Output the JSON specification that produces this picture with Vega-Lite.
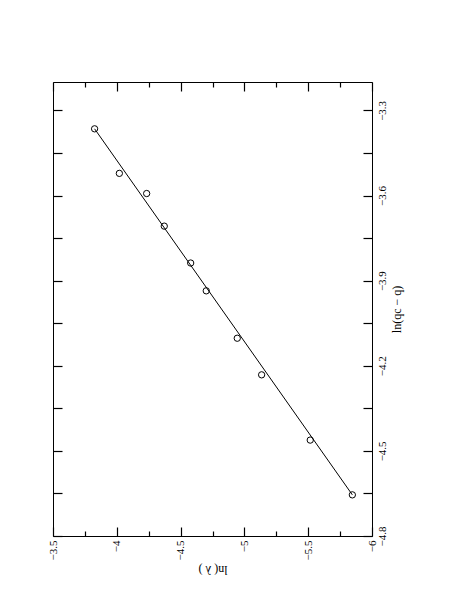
{
  "$schema": "https://vega.github.io/schema/vega-lite/v6.json",
  "width": 319,
  "height": 454,
  "autosize": {"type": "none"},
  "padding": {"left": 53, "top": 82, "right": 81, "bottom": 69},
  "background": "white",
  "config": {
    "view": {"stroke": "black", "strokeWidth": 1},
    "axis": {
      "grid": false,
      "domain": false,
      "labelFont": "Liberation Serif",
      "titleFont": "Liberation Serif",
      "labelFontSize": 11,
      "titleFontSize": 12,
      "titleFontWeight": "normal",
      "ticks": true,
      "tickColor": "black",
      "tickOpacity": 1,
      "labelColor": "black",
      "titleColor": "black",
      "tickWidth": 1.2
    }
  },
  "datasets": {
    "pts": [
      {"lnlam": -3.826, "lnq": -3.365},
      {"lnlam": -4.020, "lnq": -3.522},
      {"lnlam": -4.234, "lnq": -3.593},
      {"lnlam": -4.372, "lnq": -3.708},
      {"lnlam": -4.579, "lnq": -3.838},
      {"lnlam": -4.701, "lnq": -3.936},
      {"lnlam": -4.944, "lnq": -4.103},
      {"lnlam": -5.135, "lnq": -4.232},
      {"lnlam": -5.516, "lnq": -4.462},
      {"lnlam": -5.846, "lnq": -4.655}
    ],
    "fit": [
      {"lnlam": -3.826, "lnq": -3.365},
      {"lnlam": -5.846, "lnq": -4.655}
    ]
  },
  "resolve": {"axis": {"x": "independent", "y": "independent"}},
  "layer": [
    {
      "data": {"name": "fit"},
      "mark": {"type": "line", "color": "black", "strokeWidth": 1},
      "encoding": {
        "x": {
          "field": "lnlam", "type": "quantitative",
          "scale": {"domain": [-6, -3.5], "reverse": true, "nice": false, "zero": false},
          "axis": {
            "orient": "bottom",
            "offset": -9,
            "title": "ln( λ )",
            "titleAngle": 180,
            "titlePadding": 15,
            "values": [-3.5, -4, -4.5, -5, -5.5, -6],
            "format": "~g",
            "labelAngle": 270,
            "labelPadding": 4,
            "tickSize": 9
          }
        },
        "y": {
          "field": "lnq", "type": "quantitative",
          "scale": {"domain": [-4.8, -3.2], "nice": false, "zero": false},
          "axis": {
            "orient": "right",
            "offset": -9,
            "title": "ln(qc − q)",
            "titleAngle": 270,
            "titlePadding": 16,
            "values": [-3.3, -3.45, -3.6, -3.75, -3.9, -4.05, -4.2, -4.35, -4.5, -4.65, -4.8],
            "labelExpr": "abs(round(datum.value*100)) % 30 == 0 ? format(datum.value, '~g') : ''",
            "labelAngle": 270,
            "labelPadding": 4,
            "tickSize": 9
          }
        }
      }
    },
    {
      "data": {"name": "pts"},
      "mark": {"type": "point", "shape": "circle", "filled": false, "color": "black", "size": 40, "strokeWidth": 1, "opacity": 1},
      "encoding": {
        "x": {
          "field": "lnlam", "type": "quantitative",
          "scale": {"domain": [-6, -3.5], "reverse": true, "nice": false, "zero": false},
          "axis": {
            "orient": "top",
            "offset": -9,
            "title": null,
            "labels": false,
            "values": [-3.5, -4, -4.5, -5, -5.5, -6],
            "tickSize": 9
          }
        },
        "y": {
          "field": "lnq", "type": "quantitative",
          "scale": {"domain": [-4.8, -3.2], "nice": false, "zero": false},
          "axis": {
            "orient": "left",
            "offset": -9,
            "title": null,
            "labels": false,
            "values": [-3.3, -3.45, -3.6, -3.75, -3.9, -4.05, -4.2, -4.35, -4.5, -4.65, -4.8],
            "tickSize": 9
          }
        }
      }
    },
    {
      "data": {"name": "pts"},
      "mark": {"type": "point", "opacity": 0},
      "encoding": {
        "x": {
          "field": "lnlam", "type": "quantitative",
          "scale": {"domain": [-6, -3.5], "reverse": true, "nice": false, "zero": false},
          "axis": {
            "orient": "bottom",
            "offset": -5,
            "title": null,
            "labels": false,
            "values": [-3.75, -4.25, -4.75, -5.25, -5.75],
            "tickSize": 5
          }
        },
        "y": {
          "field": "lnq", "type": "quantitative",
          "scale": {"domain": [-4.8, -3.2], "nice": false, "zero": false},
          "axis": null
        }
      }
    },
    {
      "data": {"name": "pts"},
      "mark": {"type": "point", "opacity": 0},
      "encoding": {
        "x": {
          "field": "lnlam", "type": "quantitative",
          "scale": {"domain": [-6, -3.5], "reverse": true, "nice": false, "zero": false},
          "axis": {
            "orient": "top",
            "offset": -5,
            "title": null,
            "labels": false,
            "values": [-3.75, -4.25, -4.75, -5.25, -5.75],
            "tickSize": 5
          }
        },
        "y": {
          "field": "lnq", "type": "quantitative",
          "scale": {"domain": [-4.8, -3.2], "nice": false, "zero": false},
          "axis": null
        }
      }
    }
  ]
}
